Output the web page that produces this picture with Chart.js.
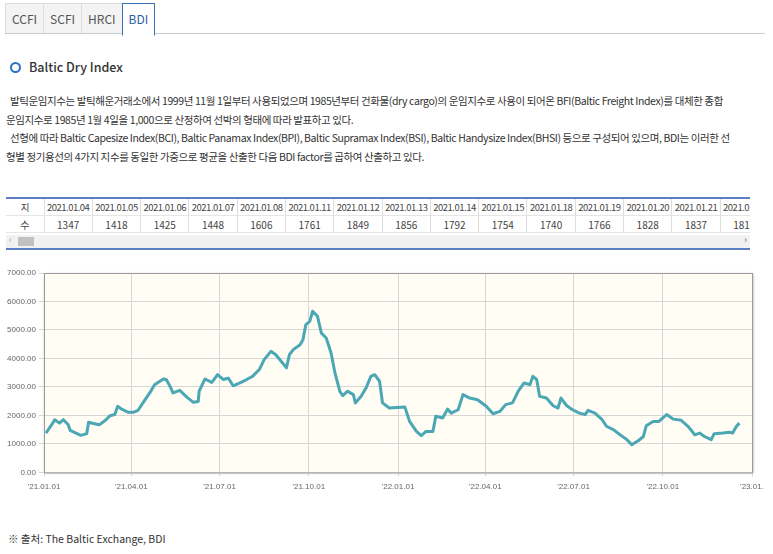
<!DOCTYPE html>
<html><head><meta charset="utf-8">
<script src="https://cdn.jsdelivr.net/npm/chart.js@4"></script>
<style>
body{margin:0;width:773px;height:554px;overflow:hidden;background:#fff;font-family:"Noto Sans CJK KR","Noto Sans",sans-serif;color:#333;position:relative}
.tabs{position:absolute;left:5px;top:3px;right:8px;height:30px;border-bottom:1px solid #ccc}
.tab{float:left;height:29px;line-height:29px;padding:0 6px;font-size:12px;color:#555;background:#f3f3f3;border:1px solid #ddd;border-bottom:none;margin-right:-1px}
.tab.on{background:#fff;color:#2a5fa8;border:1px solid #3a6fb8;border-bottom:1px solid #fff;height:31px}
.title{position:absolute;left:10px;top:57px;font-size:12.5px;font-weight:500;color:#333}
.title i{display:inline-block;width:7px;height:7px;border:2.5px solid #2a6fc8;border-radius:50%;margin-right:8px;vertical-align:-1px}
.para{position:absolute;left:6px;top:92px;width:760px;font-size:10.5px;line-height:18.5px;color:#333;white-space:nowrap;letter-spacing:-0.4px}
.tw{position:absolute;left:6px;top:197px;width:744px;overflow:hidden;border-top:2px solid #5b7fc0}
table{border-collapse:collapse;font-size:10px;color:#444;table-layout:fixed;width:760px}
td{height:16px;border-right:1px solid #ddd;border-bottom:1px solid #e5e5e5;text-align:center;padding:0;white-space:nowrap}
tr:first-child td{font-size:9.5px;letter-spacing:-0.5px}
.scroll{position:absolute;left:6px;top:235px;width:744px;height:13px;background:#f1f1f1;border-bottom:2px solid #5b7fc0}
.thumb{position:absolute;left:12px;top:2px;width:16px;height:9px;background:#c1c1c1}
.src{position:absolute;left:8px;top:531px;font-size:10.5px;color:#333}
#wrap{position:absolute;left:0;top:265px;width:770px;height:233px}
</style></head><body>
<div class="tabs"><div class="tab">CCFI</div><div class="tab">SCFI</div><div class="tab">HRCI</div><div class="tab on">BDI</div></div>
<div class="title"><i></i>Baltic Dry Index</div>
<div class="para">&nbsp;&nbsp;발틱운임지수는 발틱해운거래소에서 1999년 11월 1일부터 사용되었으며 1985년부터 건화물(dry cargo)의 운임지수로 사용이 되어온 BFI(Baltic Freight Index)를 대체한 종합<br>운임지수로 1985년 1월 4일을 1,000으로 산정하여 선박의 형태에 따라 발표하고 있다.<br>&nbsp;&nbsp;선형에 따라 Baltic Capesize Index(BCI), Baltic Panamax Index(BPI), Baltic Supramax Index(BSI), Baltic Handysize Index(BHSI) 등으로 구성되어 있으며, BDI는 이러한 선<br>형별 정기용선의 4가지 지수를 동일한 가중으로 평균을 산출한 다음 BDI factor를 곱하여 산출하고 있다.</div>
<div class="tw"><table id="tbl"></table></div>
<div class="scroll"><div class="thumb"></div><span style="position:absolute;left:3px;top:-2px;font-size:9px;color:#999">‹</span><span style="position:absolute;right:3px;top:-2px;font-size:9px;color:#555">›</span></div>
<div id="wrap"><canvas id="chart"></canvas></div>
<div class="src">※ 출처: The Baltic Exchange, BDI</div>
<script>
const tableDates = ['2021.01.04','2021.01.05','2021.01.06','2021.01.07','2021.01.08','2021.01.11','2021.01.12','2021.01.13','2021.01.14','2021.01.15','2021.01.18','2021.01.19','2021.01.20','2021.01.21','2021.01.22'];
const tableValues = [1347,1418,1425,1448,1606,1761,1849,1856,1792,1754,1740,1766,1828,1837,1810];

// day offset from 2021-01-01
const days = [2,9,11,16,20,25,27,33,38,44,46,52,57,64,68,73,76,80,87,92,97,102,109,114,123,126,130,133,140,147,154,159,160,166,173,179,185,190,195,202,209,215,222,227,234,239,246,250,253,257,264,267,270,274,277,282,286,291,296,300,305,308,313,319,321,327,332,337,341,346,349,356,372,377,384,389,394,401,404,411,416,420,427,432,439,447,456,463,470,476,483,489,495,501,504,508,511,518,525,530,533,539,545,552,558,561,568,575,580,587,594,601,606,613,618,621,628,634,638,642,649,657,664,671,676,681,688,691,700,707,710,714,717];
const bdi = [1380,1730,1850,1730,1850,1670,1475,1380,1300,1360,1760,1710,1670,1850,1990,2030,2320,2220,2110,2110,2180,2440,2790,3080,3280,3260,3020,2790,2880,2650,2460,2490,2850,3280,3160,3430,3260,3310,3040,3140,3260,3370,3610,3960,4250,4130,3840,3670,4130,4310,4480,4660,5190,5300,5660,5480,4890,4720,4190,3490,2850,2690,2850,2730,2440,2670,2960,3370,3430,3200,2440,2260,2300,1790,1440,1290,1440,1440,1970,1910,2220,2080,2200,2730,2610,2550,2320,2060,2140,2380,2440,2850,3140,3080,3370,3260,2670,2610,2340,2260,2610,2340,2200,2080,2030,2180,2080,1870,1620,1500,1320,1150,970,1120,1260,1640,1790,1790,1910,2030,1870,1830,1620,1320,1380,1260,1150,1360,1380,1410,1380,1620,1730];
const tickDays = [0,90,181,273,365,455,546,638,730];
const tickLabels = ["'21.01.01","'21.04.01","'21.07.01","'21.10.01","'22.01.01","'22.04.01","'22.07.01","'22.10.01","'23.01."];

const tbl = document.getElementById('tbl');
const cols = '<colgroup><col style="width:38px">' + tableDates.map(()=>'<col style="width:48.3px">').join('') + '</colgroup>';
tbl.innerHTML = cols + '<tr><td>지</td>' + tableDates.map(d=>`<td>${d}</td>`).join('') + '</tr>' +
  '<tr><td>수</td>' + tableValues.map(v=>`<td>${v}</td>`).join('') + '</tr>';

const bgPlugin = {
  id:'bg',
  beforeDraw(c){
    const a = c.chartArea, g = c.ctx;
    g.save();
    g.shadowColor='rgba(0,0,0,0.35)'; g.shadowBlur=3; g.shadowOffsetX=1; g.shadowOffsetY=1;
    g.fillStyle='#fffdf4'; g.fillRect(a.left,a.top,a.right-a.left,a.bottom-a.top);
    g.restore();
  },
  afterDraw(c){
    const a = c.chartArea, g = c.ctx;
    g.save(); g.strokeStyle='#999'; g.lineWidth=1;
    g.strokeRect(a.left+0.5,a.top+0.5,a.right-a.left,a.bottom-a.top); g.restore();
  }
};

new Chart(document.getElementById('chart'), {
  type:'line',
  data:{datasets:[{data:days.map((d,i)=>({x:d,y:bdi[i]})),borderColor:'#4aa7b3',borderWidth:3,pointRadius:0,tension:0,borderJoinStyle:'round'}]},
  options:{
    responsive:true, maintainAspectRatio:false, animation:false,
    layout:{padding:{top:8,right:18,left:0,bottom:0}},
    plugins:{legend:{display:false},tooltip:{enabled:false}},
    scales:{
      x:{type:'linear',min:0,max:730,
        afterBuildTicks:s=>{s.ticks=tickDays.map(v=>({value:v}));},
        ticks:{autoSkip:false,maxRotation:0,font:{size:8},color:'#666',padding:6,
          callback:(v)=>tickLabels[tickDays.indexOf(v)]},
        grid:{color:'#d6d6d6',tickLength:4},border:{display:false}},
      y:{min:0,max:7000,
        afterFit:s=>{s.width=44;},
        ticks:{stepSize:1000,font:{size:8},color:'#666',callback:v=>v.toFixed(2)},
        grid:{color:'#d6d6d6',tickLength:5},border:{display:false}}
    }
  },
  plugins:[bgPlugin]
});
</script>
</body></html>
